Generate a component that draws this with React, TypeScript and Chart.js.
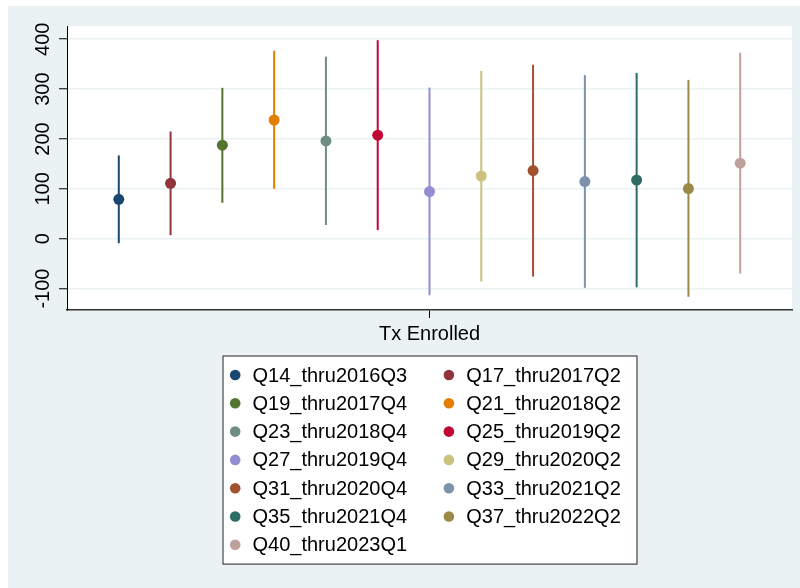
import React, { useEffect, useRef } from "react";
import { Chart, registerables } from "chart.js";

Chart.register(...registerables);

const seriesNames = [
  "Q14_thru2016Q3", "Q17_thru2017Q2", "Q19_thru2017Q4", "Q21_thru2018Q2",
  "Q23_thru2018Q4", "Q25_thru2019Q2", "Q27_thru2019Q4", "Q29_thru2020Q2",
  "Q31_thru2020Q4", "Q33_thru2021Q2", "Q35_thru2021Q4", "Q37_thru2022Q2",
  "Q40_thru2023Q1",
];
const estimates = [79, 111, 187.5, 238, 196, 207.5, 94.5, 125.5, 136.5, 114.5, 117.5, 100.5, 151.5];
const lowerCI = [-9, 7, 72, 100, 27.5, 17.5, -113.5, -86, -76, -98.5, -97.5, -116.5, -70];
const upperCI = [167, 215, 302.5, 377, 365, 398, 303, 336.5, 349, 328, 332.5, 318.5, 373];
const seriesColors = [
  "#1a476f", "#90353b", "#55752f", "#e37e00", "#6e8e84", "#c10534", "#938dd2",
  "#cac27e", "#a0522d", "#7b92a8", "#2d6d66", "#9c8847", "#bfa19c",
];
const categoryLabel = "Tx Enrolled";
const yTicks = [-100, 0, 100, 200, 300, 400];

const FONT = '"Liberation Sans", Arial, Helvetica, sans-serif';
const BG = "#eaf2f3";

const legendPlugin = {
  id: "boxLegend",
  afterDraw(chart: any) {
    const ctx = chart.ctx;
    const area = chart.chartArea;
    const cols = 2;
    const rows = Math.ceil(seriesNames.length / cols);
    const rowH = 28.3;
    const boxW = 414;
    const boxH = rows * rowH + 10;
    const left = (area.left + area.right) / 2 - boxW / 2;
    const top = 349.5;
    ctx.save();
    ctx.fillStyle = "#ffffff";
    ctx.fillRect(left, top, boxW, boxH);
    ctx.strokeStyle = "#222";
    ctx.lineWidth = 1;
    ctx.strokeRect(left + 0.5, top + 0.5, boxW, boxH);
    ctx.font = `20px ${FONT}`;
    ctx.textBaseline = "middle";
    ctx.textAlign = "left";
    seriesNames.forEach((name, i) => {
      const r = Math.floor(i / cols);
      const c = i % cols;
      const cy = top + 19.5 + r * rowH;
      const mx = left + 12.7 + c * 213.7;
      ctx.fillStyle = seriesColors[i];
      ctx.beginPath();
      ctx.arc(mx, cy, 5.3, 0, Math.PI * 2);
      ctx.fill();
      ctx.fillStyle = "#000";
      ctx.fillText(name, mx + 17.3, cy + 1);
    });
    ctx.restore();
  },
};

export default function App() {
  const ref = useRef<HTMLCanvasElement | null>(null);
  useEffect(() => {
    if (!ref.current) return;
    const datasets: any[] = [];
    seriesNames.forEach((name, i) => {
      datasets.push({
        type: "line",
        label: name + " CI",
        data: [
          { x: i, y: lowerCI[i] },
          { x: i, y: upperCI[i] },
        ],
        borderColor: seriesColors[i],
        borderWidth: 2,
        pointRadius: 0,
        order: 2,
      });
      datasets.push({
        type: "scatter",
        label: name,
        data: [{ x: i, y: estimates[i] }],
        backgroundColor: seriesColors[i],
        borderWidth: 0,
        pointRadius: 5.5,
        order: 1,
      });
    });
    const chart = new Chart(ref.current, {
      type: "scatter",
      data: { datasets },
      options: {
        animation: false,
        responsive: false,
        maintainAspectRatio: false,
        layout: { padding: { top: 20, right: 8, left: 0, bottom: 238 } },
        plugins: { legend: { display: false }, tooltip: { enabled: false } },
        scales: {
          x: {
            type: "linear",
            min: -1,
            max: seriesNames.length,
            afterBuildTicks: (scale: any) => {
              scale.ticks = [{ value: (seriesNames.length - 1) / 2 }];
            },
            afterFit: (scale: any) => {
              scale.height = 40;
            },
            ticks: {
              callback: () => categoryLabel,
              color: "#000",
              font: { family: FONT, size: 20 },
              padding: 4,
              maxRotation: 0,
              autoSkip: false,
            },
            grid: {
              drawOnChartArea: false,
              drawTicks: true,
              tickLength: 8,
              tickColor: "#000",
              tickWidth: 1,
            },
            border: { display: true, color: "#333", width: 1.5 },
          },
          y: {
            type: "linear",
            min: -143,
            max: 426.5,
            afterBuildTicks: (scale: any) => {
              scale.ticks = yTicks.map((v) => ({ value: v }));
            },
            afterFit: (scale: any) => {
              scale.width = 59;
            },
            ticks: {
              color: "#000",
              font: { family: FONT, size: 20 },
              minRotation: 90,
              maxRotation: 90,
              crossAlign: "center",
              padding: -4,
              autoSkip: false,
            },
            grid: {
              color: BG,
              lineWidth: 1.5,
              drawTicks: true,
              tickLength: 8,
              tickColor: "#000",
              tickWidth: 1,
            },
            border: { display: true, color: "#000", width: 1 },
          },
        },
      },
      plugins: [
        {
          id: "plotBg",
          beforeDraw(c: any) {
            const a = c.chartArea;
            c.ctx.save();
            c.ctx.fillStyle = "#ffffff";
            c.ctx.fillRect(a.left, a.top, a.right - a.left, a.bottom - a.top);
            c.ctx.restore();
          },
        },
        legendPlugin,
      ],
    } as any);
    return () => chart.destroy();
  }, []);
  return (
    <div
      style={{
        position: "absolute",
        left: 8,
        top: 6,
        width: 792,
        height: 582,
        background: BG,
      }}
    >
      <canvas ref={ref} width={792} height={582} style={{ display: "block" }} />
    </div>
  );
}
